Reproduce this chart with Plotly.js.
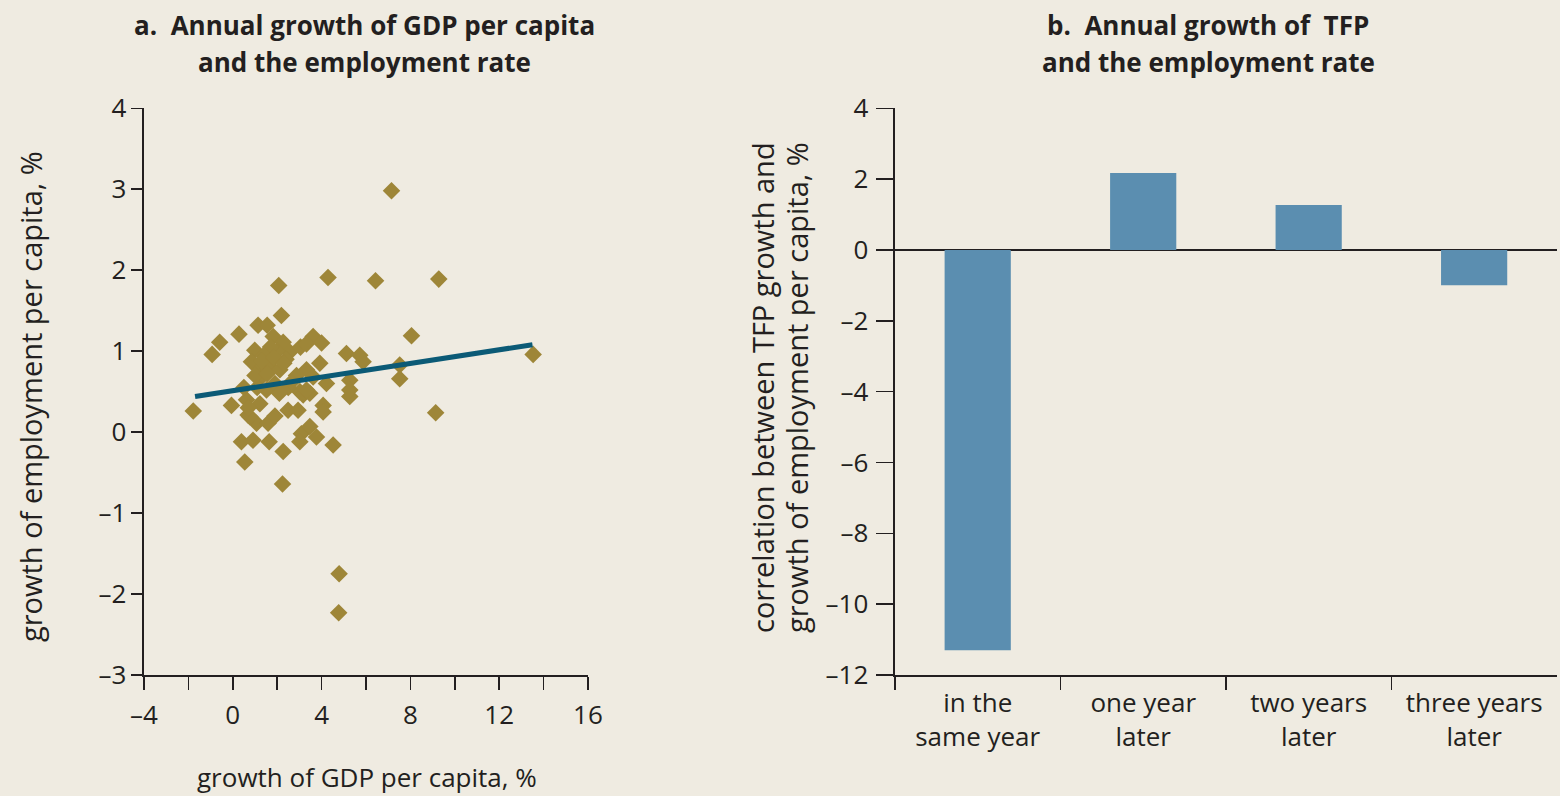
<!DOCTYPE html>
<html>
<head>
<meta charset="utf-8">
<script src="https://cdn.plot.ly/plotly-3.0.1.min.js"></script>
<style>html,body{margin:0;padding:0;background:#EFEBE1;}#chart{width:1560px;height:796px;}</style>
</head>
<body>
<div id="chart"></div>
<script>
// Panel a: scatter of GDP per capita growth vs employment growth (%)
const gdpGrowth = [-1.78,-0.93,-0.59,0.28,1.14,1.55,1.82,2.27,0.99,2.57,3.05,0.84,1.22,1.67,2.12,1.22,2.87,3.32,3.02,1.52,
  -0.06,0.62,1.22,0.69,1.07,1.59,0.39,0.91,1.64,2.27,0.54,2.24,2.49,2.94,3.09,3.02,3.17,9.14,4.52,5.27,
  4.07,4.07,3.47,3.77,3.47,8.05,3.62,3.32,5.12,5.72,5.87,7.52,7.52,5.27,5.27,3.92,3.62,4.22,3.32,7.15,
  2.07,4.29,6.43,9.28,2.19,13.53,4.79,4.77,0.77,1.10,1.90,2.50,0.50,1.00,2.00,1.70,2.40,0.70,1.40,4.00,1.90,
  1.30,1.85,2.30,2.65,1.55,2.10];
const empGrowth = [0.26,0.96,1.11,1.21,1.32,1.32,1.18,1.11,1.01,0.99,1.05,0.87,0.77,0.81,0.77,0.66,0.70,0.77,0.50,0.52,
  0.33,0.40,0.35,0.21,0.11,0.11,-0.12,-0.10,-0.12,-0.24,-0.37,-0.64,0.27,0.27,-0.02,-0.12,0.46,0.24,-0.16,0.44,
  0.33,0.25,0.07,-0.06,0.48,1.19,1.18,1.09,0.97,0.95,0.87,0.83,0.66,0.64,0.52,0.85,0.68,0.60,0.52,2.98,
  1.81,1.91,1.87,1.89,1.44,0.96,-1.75,-2.23,0.19,0.55,0.60,0.55,0.55,0.70,1.00,1.05,0.90,0.30,0.95,1.10,0.20,
  0.88,0.92,0.85,0.62,0.72,0.48];
const trendX = [-1.7, 13.5];
const trendY = [0.44, 1.08];
const xTickVals = [-4,-2,0,2,4,6,8,10,12,14,16];
const xTickText = ['\u20134','','0','','4','','8','','12','','16'];
const yTickVals = [-3,-2,-1,0,1,2,3,4];
const yTickText = ['\u20133','\u20132','\u20131','0','1','2','3','4'];

// Panel b: correlation between TFP growth and employment growth (%)
const lagCategories = ['in the<br>same year','one year<br>later','two years<br>later','three years<br>later'];
const correlations = [-11.3, 2.17, 1.27, -1.0];
const y2TickVals = [-12,-10,-8,-6,-4,-2,0,2,4];
const y2TickText = ['\u201312','\u201310','\u20138','\u20136','\u20134','\u20132','0','2','4'];

const FONT = 'Open Sans, Noto Sans, sans-serif';
const INK = '#231F20';
const BG = '#EFEBE1';
const TICK_SIZE = 26;

const traces = [
  {type:'scatter', mode:'markers', x:gdpGrowth, y:empGrowth, xaxis:'x', yaxis:'y',
   marker:{symbol:'diamond', size:13.5, color:'#9E8638', line:{width:0}}},
  {type:'scatter', mode:'lines', x:trendX, y:trendY, xaxis:'x', yaxis:'y',
   line:{color:'#0B5A76', width:5}},
  {type:'bar', x:lagCategories, y:correlations, xaxis:'x2', yaxis:'y2',
   marker:{color:'#5B8EB0'}}
];

const axCommon = {showgrid:false, zeroline:false, showline:true, linecolor:INK, linewidth:1.5,
  ticks:'outside', tickcolor:INK, tickwidth:1.5, tickfont:{family:FONT, size:TICK_SIZE, color:INK}};

function ann(text, x, y, size, angle) {
  return {text:text, xref:'paper', yref:'paper', x:x/1560, y:1-y/796, textangle:angle||0,
    xanchor:'center', yanchor:'middle', showarrow:false, font:{family:FONT, size:size, color:INK}};
}

const layout = {
  width:1560, height:796, showlegend:false,
  paper_bgcolor:BG, plot_bgcolor:BG,
  margin:{l:0,r:0,t:0,b:0},
  font:{family:FONT, color:INK},
  bargap:0.6,
  xaxis:Object.assign({}, axCommon, {domain:[0.0923,0.3769], range:[-4,16], tickmode:'array',
    tickvals:xTickVals, ticktext:xTickText, ticklen:13, ticklabelstandoff:3, anchor:'y'}),
  yaxis:Object.assign({}, axCommon, {domain:[0.152,0.864], range:[-3,4], tickmode:'array',
    tickvals:yTickVals, ticktext:yTickText, ticklen:11, anchor:'x'}),
  xaxis2:Object.assign({}, axCommon, {domain:[0.5737,0.998], type:'category', tickson:'boundaries',
    ticklen:13, ticklabelstandoff:4, anchor:'y2'}),
  yaxis2:Object.assign({}, axCommon, {domain:[0.152,0.864], range:[-12,4], tickmode:'array',
    tickvals:y2TickVals, ticktext:y2TickText, ticklen:17, ticklabelstandoff:3, anchor:'x2',
    zeroline:true, zerolinecolor:INK, zerolinewidth:1.5}),
  annotations:[
    ann('<b>a.  Annual growth of GDP per capita</b>', 364, 25, 26),
    ann('<b>and the employment rate</b>', 364, 62, 26),
    ann('<b>b.  Annual growth of  TFP</b>', 1208, 25, 26),
    ann('<b>and the employment rate</b>', 1208, 62, 26),
    ann('growth of employment per capita, %', 30, 397, 29, -90),
    ann('growth of GDP per capita, %', 367, 777, 26),
    ann('correlation between TFP growth and', 762, 388, 29, -90),
    ann('growth of employment per capita, %', 796, 388, 29, -90)
  ]
};

Plotly.newPlot('chart', traces, layout, {displayModeBar:false, staticPlot:true});
</script>
</body>
</html>
